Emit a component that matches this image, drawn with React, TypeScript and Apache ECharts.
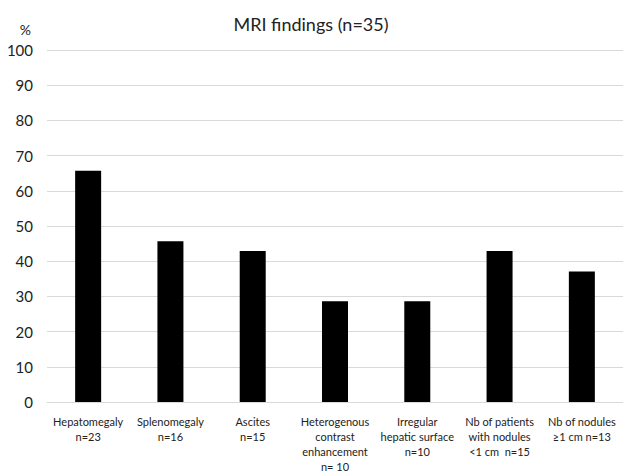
import React, { useEffect, useRef } from "react";
import * as echarts from "echarts";

const categories = [
  "Hepatomegaly\nn=23",
  "Splenomegaly\nn=16",
  "Ascites\nn=15",
  "Heterogenous\ncontrast\nenhancement\nn= 10",
  "Irregular\nhepatic surface\nn=10",
  "Nb of patients\nwith nodules\n<1 cm  n=15",
  "Nb of nodules\n≥1 cm n=13",
];
const percentages = [65.7, 45.7, 42.9, 28.6, 28.6, 42.9, 37.1];
const yTicks = [0, 10, 20, 30, 40, 50, 60, 70, 80, 90, 100];

const FONT = "Lato, 'Open Sans', sans-serif";

export default function App() {
  const ref = useRef<HTMLDivElement>(null);
  useEffect(() => {
    if (!ref.current) return;
    const chart = echarts.init(ref.current, null, { renderer: "svg" });
    chart.setOption({
      animation: false,
      backgroundColor: "#ffffff",
      title: {
        text: "MRI findings (n=35)",
        left: 306,
        top: 10,
        textAlign: "center",
        textStyle: { fontFamily: FONT, fontSize: 18, fontWeight: "normal", color: "#222" },
      },
      grid: { left: 47, top: 50, width: 580, height: 357, containLabel: false },
      xAxis: {
        type: "category",
        data: categories,
        axisTick: { show: false },
        axisLine: { lineStyle: { color: "#d9d9d9" } },
        axisLabel: {
          interval: 0,
          margin: 12,
          fontFamily: FONT,
          fontSize: 11,
          lineHeight: 15,
          color: "#222",
        },
      },
      yAxis: {
        type: "value",
        min: yTicks[0],
        max: yTicks[yTicks.length - 1],
        interval: 10,
        name: "%",
        nameLocation: "end",
        nameGap: 14,
        nameTextStyle: { fontFamily: FONT, fontSize: 14, color: "#222", align: "right", padding: [0, 16, 0, 0] },
        axisLine: { show: false },
        axisTick: { show: false },
        axisLabel: { fontFamily: FONT, fontSize: 15, color: "#222", margin: 14 },
        splitLine: { lineStyle: { color: "#d9d9d9", width: 1 } },
      },
      series: [
        {
          type: "bar",
          data: percentages,
          barWidth: 26,
          itemStyle: { color: "#000000" },
        },
      ],
    });
    return () => chart.dispose();
  }, []);
  return <div ref={ref} style={{ width: 623, height: 474, position: "absolute", left: 0, top: 0 }} />;
}
